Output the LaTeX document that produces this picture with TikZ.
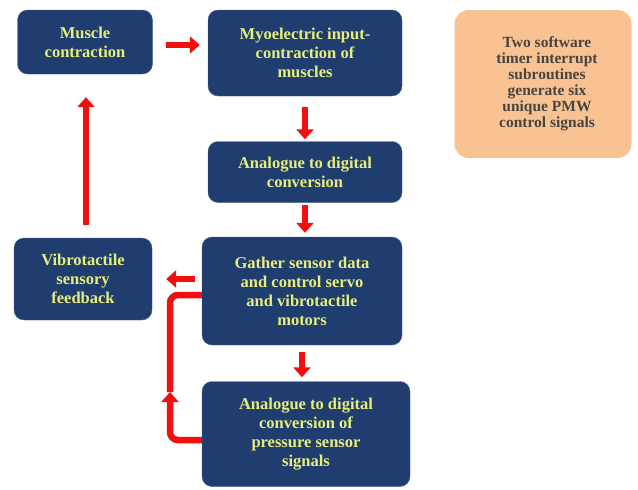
\documentclass[tikz,border=0pt]{standalone}
\usepackage{fontspec}
\setmainfont{Liberation Serif}
\usepackage{xcolor}
\usepackage{tikz}
\usetikzlibrary{arrows.meta}
\definecolor{boxblue}{HTML}{1F3D6E}
\definecolor{boxtext}{HTML}{E8EE7C}
\definecolor{notefill}{HTML}{F9C292}
\definecolor{notetext}{HTML}{4A4440}
\definecolor{flowred}{HTML}{F01010}

\begin{document}
\begin{tikzpicture}[x=1pt,y=-1pt]
\tikzstyle{every node}+=[inner sep=0pt]
\tikzstyle{stage}=[rectangle, rounded corners=10pt, fill=boxblue, draw=boxblue!80!white, text=boxtext, align=center, font=\bfseries\fontsize{16.5}{19}\selectfont]
\tikzstyle{note}=[rectangle, rounded corners=14pt, fill=notefill, text=notetext, align=center, font=\bfseries\fontsize{15.5}{16}\selectfont]
\tikzstyle{flow}=[draw=flowred, line width=6.5pt, -{Triangle[width=17pt,length=10pt]}]
\tikzstyle{link}=[draw=flowred, line width=6.5pt, rounded corners=8pt]
\useasboundingbox (0,0) rectangle (638,490);
\node [stage, minimum width=135pt, minimum height=64pt] (muscle) at (85,42) {Muscle\\contraction};
\node [stage, minimum width=194pt, minimum height=86pt] (myo) at (305,53) {Myoelectric input-\\contraction of\\muscles};
\node [stage, minimum width=194pt, minimum height=61pt] (adc) at (305,172) {Analogue to digital\\conversion};
\node [stage, minimum width=200pt, minimum height=108pt] (gather) at (302,291) {Gather sensor data\\and control servo\\and vibrotactile\\motors};
\node [stage, minimum width=138pt, minimum height=82pt] (vibro) at (83,279) {Vibrotactile\\sensory\\feedback};
\node [stage, minimum width=208pt, minimum height=105pt] (pressure) at (306,434) {Analogue to digital\\conversion of\\pressure sensor\\signals};
\node [note, minimum width=177pt, minimum height=148pt] (timer) at (543,84) {\hspace*{8pt}Two software\\\hspace*{8pt}timer interrupt\\\hspace*{8pt}subroutines\\\hspace*{8pt}generate six\\\hspace*{8pt}unique PMW\\\hspace*{8pt}control signals};
\coordinate (turn) at (170,392);
\draw [flow, shorten <=13pt, shorten >=8pt] ([yshift=-3pt]muscle.east) -- ([yshift=-3pt]muscle.east -| myo.west);
\draw [flow, shorten <=11pt, shorten >=2pt] (myo.south) -- (adc.north);
\draw [flow, shorten <=2pt, shorten >=4pt] (adc.south) -- (adc.south |- gather.north);
\draw [flow, shorten <=7pt, shorten >=14pt] ([yshift=12pt]gather.west) -- ([yshift=12pt]gather.west -| vibro.east);
\draw [flow, shorten <=7pt, shorten >=4pt] (gather.south) -- (gather.south |- pressure.north);
\draw [flow, shorten <=13pt, shorten >=23pt] ([xshift=3pt]vibro.north) -- ([xshift=3pt]vibro.north |- muscle.south);
\draw [link, -{Triangle[width=17pt,length=10pt]}] ([yshift=-6pt]pressure.west) -| (turn);
\draw [link] (turn) |- ([yshift=-4pt]gather.west);
\end{tikzpicture}
\end{document}
